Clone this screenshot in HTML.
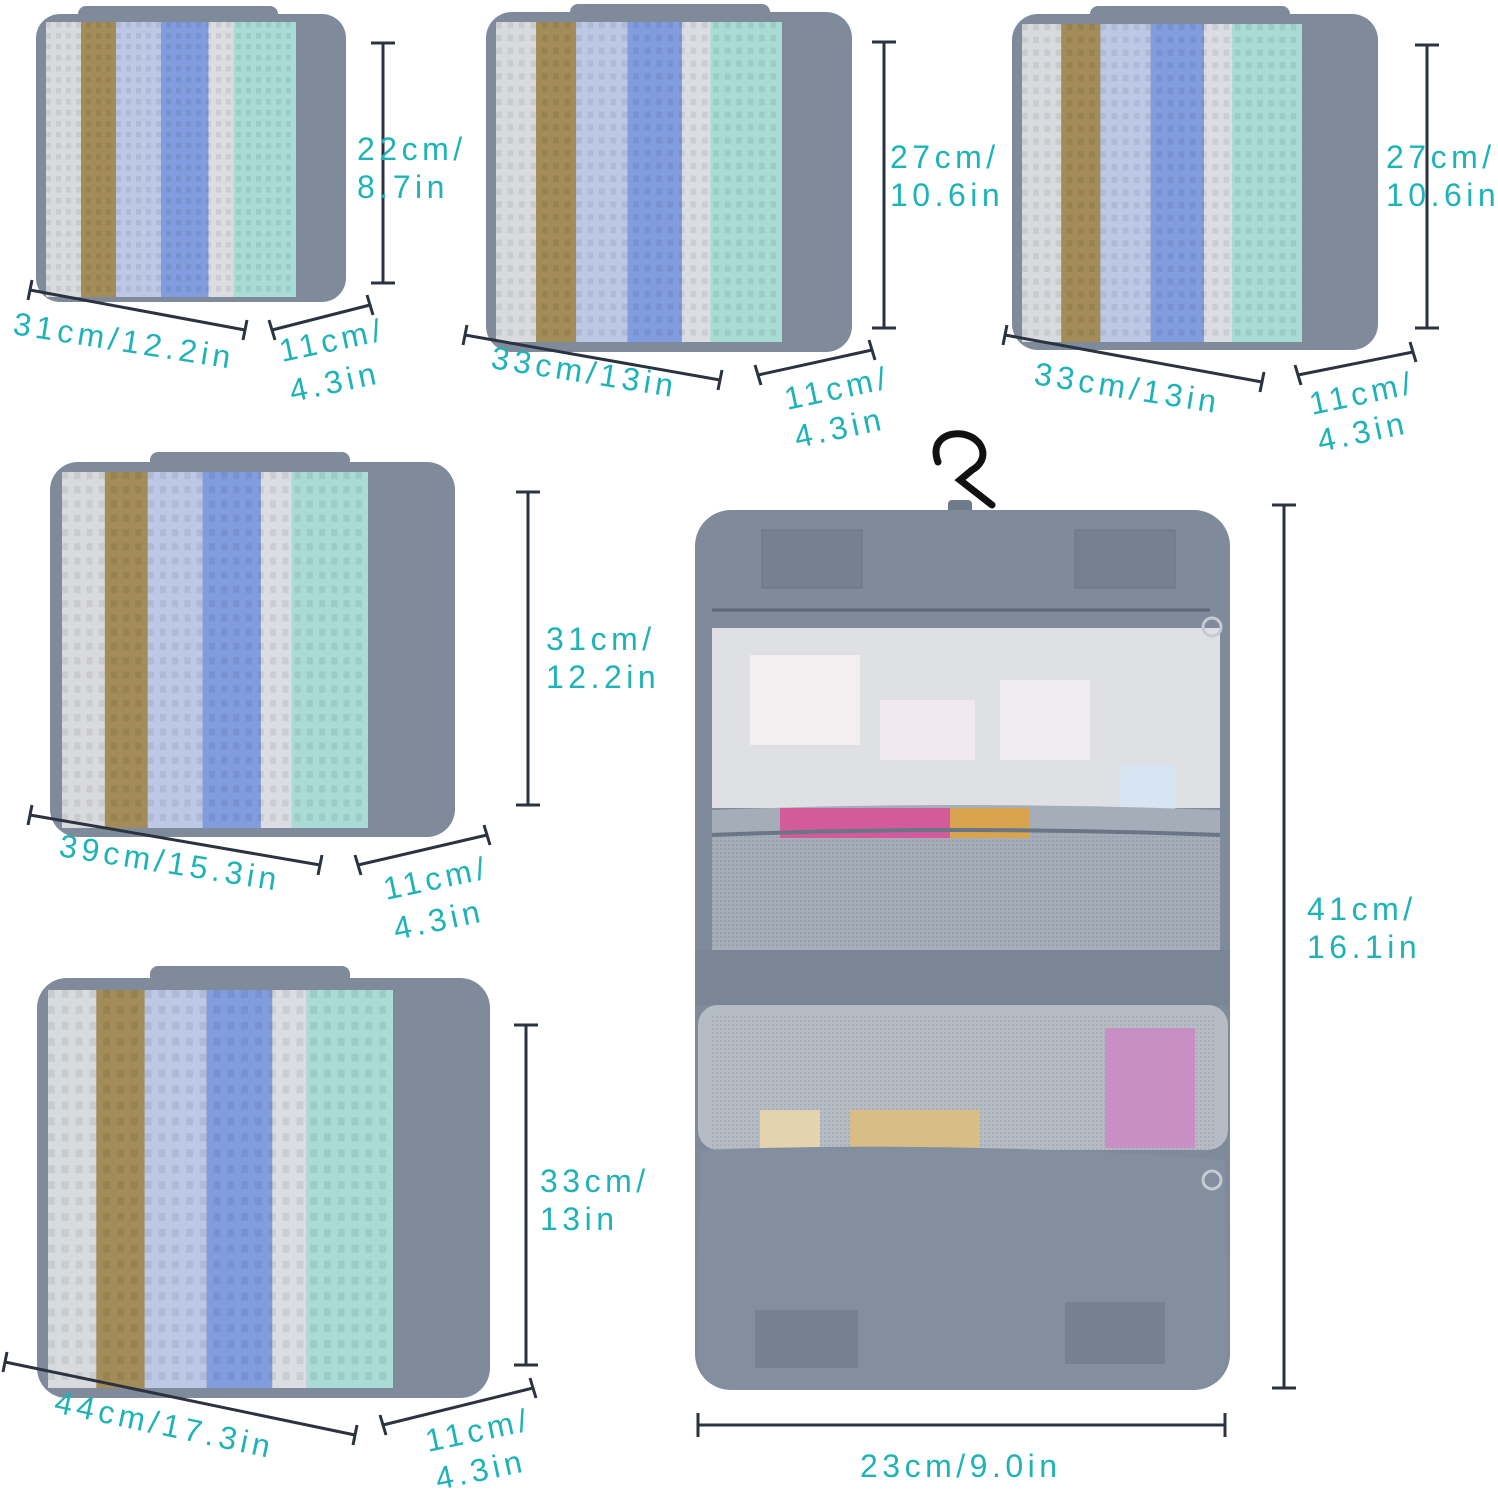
<!DOCTYPE html>
<html><head><meta charset="utf-8"><style>
html,body{margin:0;padding:0;background:#fff;width:1498px;height:1494px;overflow:hidden}
svg{display:block}
text{font-family:"Liberation Sans",sans-serif;font-size:32px;fill:#1fb3b8;letter-spacing:4.5px}
.d{stroke:#2b3340;stroke-width:3;fill:none}
</style></head><body>
<svg width="1498" height="1494" viewBox="0 0 1498 1494">
<defs>
<pattern id="mesh" width="4" height="4" patternUnits="userSpaceOnUse"><rect width="4" height="4" fill="none"/><rect width="2" height="2" fill="#00000012"/></pattern>
<g id="stripes">
<rect x="0" y="0" width="16.6" height="100" fill="#d9dadd"/>
<rect x="14" y="0" width="14" height="100" fill="#a38c58"/>
<rect x="28" y="0" width="18" height="100" fill="#bcc8e6"/>
<rect x="46" y="0" width="19" height="100" fill="#819de0"/>
<rect x="65" y="0" width="10" height="100" fill="#dcdde2"/>
<rect x="75" y="0" width="25" height="100" fill="#a9dcd4"/>
<rect x="0" y="0" width="100" height="100" fill="url(#mesh)"/>
</g>
</defs>

<rect x="78" y="6" width="200" height="20" rx="8" fill="#7f8b9b"/>
<rect x="36" y="14" width="310" height="288" rx="24" fill="#7f8b9b"/>
<svg x="46" y="22" width="250" height="275" viewBox="0 0 100 100" preserveAspectRatio="none"><use href="#stripes"/></svg>
<rect x="570" y="4" width="200" height="20" rx="8" fill="#7f8b9b"/>
<rect x="486" y="12" width="366" height="340" rx="26" fill="#7f8b9b"/>
<svg x="496" y="22" width="286" height="320" viewBox="0 0 100 100" preserveAspectRatio="none"><use href="#stripes"/></svg>
<rect x="1090" y="6" width="200" height="20" rx="8" fill="#7f8b9b"/>
<rect x="1012" y="14" width="366" height="336" rx="26" fill="#7f8b9b"/>
<svg x="1022" y="24" width="280" height="318" viewBox="0 0 100 100" preserveAspectRatio="none"><use href="#stripes"/></svg>
<rect x="150" y="452" width="200" height="22" rx="8" fill="#7f8b9b"/>
<rect x="50" y="462" width="405" height="375" rx="28" fill="#7f8b9b"/>
<svg x="62" y="472" width="306" height="356" viewBox="0 0 100 100" preserveAspectRatio="none"><use href="#stripes"/></svg>
<rect x="150" y="966" width="200" height="22" rx="8" fill="#7f8b9b"/>
<rect x="37" y="978" width="453" height="420" rx="30" fill="#7f8b9b"/>
<svg x="48" y="990" width="345" height="398" viewBox="0 0 100 100" preserveAspectRatio="none"><use href="#stripes"/></svg>

<path d="M938 462 C930 440 948 432 962 434 C985 438 990 460 972 470 L960 480 L992 505" stroke="#111" stroke-width="7" fill="none" stroke-linecap="round"/>
<rect x="948" y="500" width="24" height="30" rx="4" fill="#6f7b8a"/>
<rect x="695" y="510" width="535" height="880" rx="36" fill="#7f8b9b"/>
<rect x="762" y="530" width="100" height="58" fill="#75818f" stroke="#6a7584"/>
<rect x="1075" y="530" width="100" height="58" fill="#75818f" stroke="#6a7584"/>
<line x1="712" y1="610" x2="1210" y2="610" stroke="#5d6878" stroke-width="3"/>
<rect x="712" y="628" width="508" height="180" fill="#dfe0e3"/>
<rect x="750" y="655" width="110" height="90" fill="#f3eef0"/>
<rect x="880" y="700" width="95" height="60" fill="#f0eaee"/>
<rect x="1000" y="680" width="90" height="80" fill="#f1ecef"/>
<rect x="1120" y="765" width="55" height="70" rx="6" fill="#d7e5f3"/>
<path d="M712 810 Q960 800 1220 810 L1220 950 L712 950 Z" fill="#a5adb8"/>
<rect x="712" y="830" width="508" height="118" fill="url(#mesh)"/>
<rect x="780" y="808" width="170" height="30" fill="#d35b9b"/>
<rect x="950" y="808" width="80" height="30" fill="#d9a44d"/>
<path d="M712 835 Q960 825 1220 835" stroke="#6b7685" stroke-width="4" fill="none"/>
<rect x="695" y="950" width="535" height="55" fill="#7a8696"/>
<rect x="698" y="1005" width="530" height="145" rx="20" fill="#b6bcc4"/>
<rect x="710" y="1015" width="505" height="135" fill="url(#mesh)"/>
<rect x="1105" y="1028" width="90" height="120" fill="#c98fc5"/>
<rect x="760" y="1110" width="60" height="40" fill="#e4d3ae"/>
<rect x="850" y="1110" width="130" height="40" fill="#d8bd86"/>
<path d="M700 1150 Q960 1140 1225 1160 L1228 1345 Q1228 1390 1190 1390 L735 1390 Q698 1390 698 1350 Z" fill="#838f9e"/>
<rect x="755" y="1310" width="103" height="58" fill="#75818f"/>
<rect x="1065" y="1302" width="100" height="62" fill="#75818f"/>
<circle cx="1212" cy="627" r="9" fill="none" stroke="#c5cbd3" stroke-width="3"/>
<circle cx="1212" cy="1180" r="9" fill="none" stroke="#c5cbd3" stroke-width="3"/>

<g class="d">
<path d="M383 43V283M371 43H395M371 283H395"/>
<path d="M884 42V328M872 42H896M872 328H896"/>
<path d="M1427 45V328M1415 45H1439M1415 328H1439"/>
<path d="M528 492V805M516 492H540M516 805H540"/>
<path d="M526 1025V1365M514 1025H538M514 1365H538"/>
<path d="M1284 505V1388M1272 505H1296M1272 1388H1296"/>
<path d="M698 1425H1225M698 1413V1437M1225 1413V1437"/>
<path d="M30 290L245 330M32 280L28 300M247 320L243 340"/>
<path d="M272 330L370 305M269 320L275 340M367 295L373 315"/>
<path d="M465 335L720 380M467 325L463 345M722 370L718 390"/>
<path d="M758 375L872 350M755 365L761 385M869 340L875 360"/>
<path d="M1005 335L1262 382M1007 325L1003 345M1264 372L1260 392"/>
<path d="M1298 375L1413 352M1295 365L1301 385M1410 342L1416 362"/>
<path d="M30 815L320 865M32 805L28 825M322 855L318 875"/>
<path d="M358 865L487 835M355 855L361 875M484 825L490 845"/>
<path d="M5 1362L355 1435M7 1352L3 1372M357 1425L353 1445"/>
<path d="M383 1425L533 1388M380 1415L386 1435M530 1378L536 1398"/>
</g>

<text x="357" y="160">22cm/</text><text x="357" y="198">8.7in</text>
<text x="890" y="168">27cm/</text><text x="890" y="206">10.6in</text>
<text x="1386" y="168">27cm/</text><text x="1386" y="206">10.6in</text>
<text x="546" y="650">31cm/</text><text x="546" y="688">12.2in</text>
<text x="540" y="1192">33cm/</text><text x="540" y="1230">13in</text>
<text x="1307" y="920">41cm/</text><text x="1307" y="958">16.1in</text>
<text x="860" y="1477">23cm/9.0in</text>
<text transform="translate(12,334) rotate(9)">31cm/12.2in</text>
<text transform="translate(282,362) rotate(-12)">11cm/</text><text transform="translate(292,402) rotate(-12)">4.3in</text>
<text transform="translate(490,368) rotate(9)">33cm/13in</text>
<text transform="translate(787,410) rotate(-12)">11cm/</text><text transform="translate(797,448) rotate(-12)">4.3in</text>
<text transform="translate(1033,384) rotate(9)">33cm/13in</text>
<text transform="translate(1312,415) rotate(-12)">11cm/</text><text transform="translate(1320,452) rotate(-12)">4.3in</text>
<text transform="translate(58,856) rotate(9)">39cm/15.3in</text>
<text transform="translate(386,900) rotate(-12)">11cm/</text><text transform="translate(396,940) rotate(-12)">4.3in</text>
<text transform="translate(53,1412) rotate(12)">44cm/17.3in</text>
<text transform="translate(428,1452) rotate(-12)">11cm/</text><text transform="translate(438,1490) rotate(-12)">4.3in</text>
</svg>
</body></html>
